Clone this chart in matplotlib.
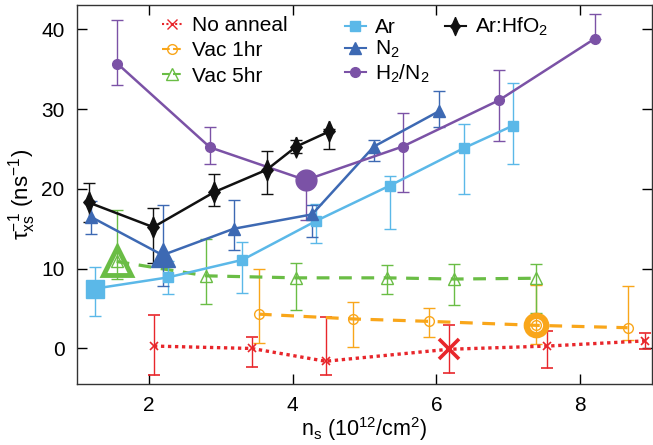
import matplotlib
matplotlib.use('Agg')
import matplotlib.pyplot as plt
from matplotlib.lines import Line2D

plt.rcParams['font.family'] = ['Liberation Sans', 'DejaVu Sans']
plt.rcParams['mathtext.fontset'] = 'custom'
plt.rcParams['mathtext.rm'] = 'Liberation Sans'
plt.rcParams['mathtext.it'] = 'Liberation Sans:italic'
plt.rcParams['font.size'] = 14

# --- data (x = n_s, y = tau^-1, asymmetric errors) ---
noann_x = [2.07, 3.43, 4.46, 6.17, 7.54, 8.90]
noann_y = [0.3, 0.0, -1.6, -0.1, 0.3, 0.95]
noann_lo = [3.6, 2.3, 1.7, 3.0, 2.7, 1.05]
noann_hi = [3.9, 1.5, 5.5, 3.1, 1.9, 0.95]

vac1_x = [3.53, 4.84, 5.89, 7.38, 8.66]
vac1_y = [4.3, 3.7, 3.4, 2.9, 2.6]
vac1_lo = [3.6, 3.5, 1.9, 2.4, 1.5]
vac1_hi = [5.6, 2.1, 1.7, 5.0, 5.2]

vac5_x = [1.55, 2.80, 4.05, 5.31, 6.25, 7.39]
vac5_y = [10.9, 9.1, 8.85, 8.85, 8.7, 8.8]
vac5_lo = [2.2, 3.5, 4.05, 2.05, 3.3, 4.4]
vac5_hi = [6.4, 4.6, 1.85, 1.55, 1.9, 1.8]

ar_x = [1.25, 2.26, 3.30, 4.33, 5.35, 6.38, 7.06]
ar_y = [7.5, 8.9, 11.1, 16.0, 20.4, 25.1, 27.9]
ar_lo = [3.4, 2.1, 4.2, 2.8, 5.4, 5.8, 4.8]
ar_hi = [2.7, 2.1, 2.3, 2.1, 1.2, 3.0, 5.4]

n2_x = [1.19, 2.19, 3.18, 4.27, 5.13, 6.03]
n2_y = [16.5, 11.7, 15.0, 16.8, 25.3, 29.7]
n2_lo = [2.1, 3.9, 2.6, 2.8, 1.8, 1.9]
n2_hi = [2.0, 6.3, 3.6, 1.2, 0.8, 2.6]

h2n2_x = [1.56, 2.85, 4.18, 5.53, 6.87, 8.20]
h2n2_y = [35.7, 25.2, 21.1, 25.3, 31.1, 38.8]
h2n2_lo = [2.7, 2.1, 5.0, 5.7, 5.1, 0.0]
h2n2_hi = [5.4, 2.5, 0.0, 4.2, 3.8, 3.1]

hfo_x = [1.16, 2.06, 2.91, 3.64, 4.05, 4.51]
hfo_y = [18.3, 15.2, 19.6, 22.4, 25.3, 27.2]
hfo_lo = [2.4, 4.5, 1.8, 3.1, 0.8, 2.2]
hfo_hi = [2.4, 2.4, 2.3, 2.3, 0.8, 0.3]

# index of the highlighted (large marker) point in each series
big_noann, big_vac1, big_vac5, big_ar, big_n2, big_h2n2 = 3, 3, 0, 0, 1, 2

c_red = '#e8262b'
c_orange = '#f9a61a'
c_green = '#6abd45'
c_ar = '#5bb8e8'
c_n2 = '#3d69b3'
c_purple = '#7b52a6'
c_black = '#111111'

# tall diamond with slightly concave sides
thin_dia = [(0, 1), (0.3, 0.3), (0.55, 0), (0.3, -0.3), (0, -1),
            (-0.3, -0.3), (-0.55, 0), (-0.3, 0.3), (0, 1)]

dotted = (0, (1, 1.1))
dashed = (0, (4, 3))

fig = plt.figure(figsize=(6.53, 4.45), dpi=100)
ax = fig.add_axes([0.118, 0.138, 0.8805, 0.851])

eb = dict(capsize=4.5, elinewidth=1.0, capthick=1.0)

ax.errorbar(noann_x, noann_y, yerr=[noann_lo, noann_hi], color=c_red, ls=dotted, lw=2.4,
            marker='x', ms=6, mew=1.2, zorder=3, **eb)
ax.errorbar(vac1_x, vac1_y, yerr=[vac1_lo, vac1_hi], color=c_orange, ls=dashed, lw=2.3,
            marker='o', ms=7, mfc='none', mew=1.0, zorder=3, **eb)
ax.errorbar(vac5_x, vac5_y, yerr=[vac5_lo, vac5_hi], color=c_green, ls=dashed, lw=2.3,
            marker='^', ms=8, mfc='none', mew=1.0, zorder=3, **eb)
ax.errorbar(ar_x, ar_y, yerr=[ar_lo, ar_hi], color=c_ar, ls='-', lw=1.8,
            marker='s', ms=6.5, zorder=4, **eb)
ax.errorbar(n2_x, n2_y, yerr=[n2_lo, n2_hi], color=c_n2, ls='-', lw=1.8,
            marker='^', ms=8.5, zorder=4, **eb)
ax.errorbar(h2n2_x, h2n2_y, yerr=[h2n2_lo, h2n2_hi], color=c_purple, ls='-', lw=1.8,
            marker='o', ms=7, zorder=4, **eb)
ax.errorbar(hfo_x, hfo_y, yerr=[hfo_lo, hfo_hi], color=c_black, ls='-', lw=1.8,
            marker=thin_dia, ms=15, zorder=4, **eb)

# highlighted points
ax.plot(noann_x[big_noann], noann_y[big_noann], 'x', color=c_red, ms=14, mew=2.6, zorder=5)
ax.plot(vac1_x[big_vac1], vac1_y[big_vac1], 'o', color=c_orange, mfc='none', ms=14, mew=4.5, zorder=5)
ax.plot(vac5_x[big_vac5], vac5_y[big_vac5], '^', color=c_green, mfc='none', ms=20, mew=3.5, zorder=5)
ax.plot(ar_x[big_ar], ar_y[big_ar], 's', color=c_ar, ms=13, zorder=5)
ax.plot(n2_x[big_n2], n2_y[big_n2], '^', color=c_n2, ms=17, zorder=5)
ax.plot(h2n2_x[big_h2n2], h2n2_y[big_h2n2], 'o', color=c_purple, ms=15, zorder=5)

ax.set_xlim(1.0, 9.0)
ax.set_ylim(-4.4, 43.05)
ax.set_xticks([2, 4, 6, 8])
ax.set_yticks([0, 10, 20, 30, 40])
ax.tick_params(direction='in', length=7, width=1, top=True, right=True, labelsize=15, pad=9)
for s in ax.spines.values():
    s.set_linewidth(1.0)
    s.set_color('#333333')

ax.set_xlabel(r'n$_\mathregular{s}$ (10$^\mathregular{12}$/cm$^\mathregular{2}$)', fontsize=15.5, labelpad=0)
ax.set_ylabel(r'$\mathregular{τ}_\mathregular{xs}^\mathregular{-1}$ (ns$^\mathregular{-1}$)', fontsize=16, labelpad=2)

# legend, three columns placed separately
def h(color, ls, marker, ms, mfc=None, lw=1.5):
    return Line2D([], [], color=color, ls=ls, marker=marker, ms=ms, lw=lw,
                  mfc=mfc if mfc else color)

col1 = [h(c_red, dotted, 'x', 7), h(c_orange, '--', 'o', 7, 'none'), h(c_green, '--', '^', 8, 'none')]
col2 = [h(c_ar, '-', 's', 7), h(c_n2, '-', '^', 8), h(c_purple, '-', 'o', 7)]
col3 = [h(c_black, '-', thin_dia, 13)]
lab1 = ['No anneal', 'Vac 1hr', 'Vac 5hr']
lab2 = ['Ar', r'N$_\mathregular{2}$', r'H$_\mathregular{2}$/N$_\mathregular{2}$']
lab3 = [r'Ar:HfO$_\mathregular{2}$']

kw = dict(frameon=False, fontsize=15, handlelength=1.0, handletextpad=0.45,
          borderpad=0, borderaxespad=0, loc='upper left',
          bbox_transform=fig.transFigure)
leg1 = ax.legend(col1, lab1, bbox_to_anchor=(162 / 653, 1 - 16 / 445), labelspacing=0.3, **kw)
ax.add_artist(leg1)
leg2 = ax.legend(col2, lab2, bbox_to_anchor=(345 / 653, 1 - 18 / 445), labelspacing=0.1, **kw)
ax.add_artist(leg2)
ax.legend(col3, lab3, bbox_to_anchor=(445 / 653, 1 - 16 / 445), **kw)

plt.savefig('out.png', dpi=100)
plt.close()
